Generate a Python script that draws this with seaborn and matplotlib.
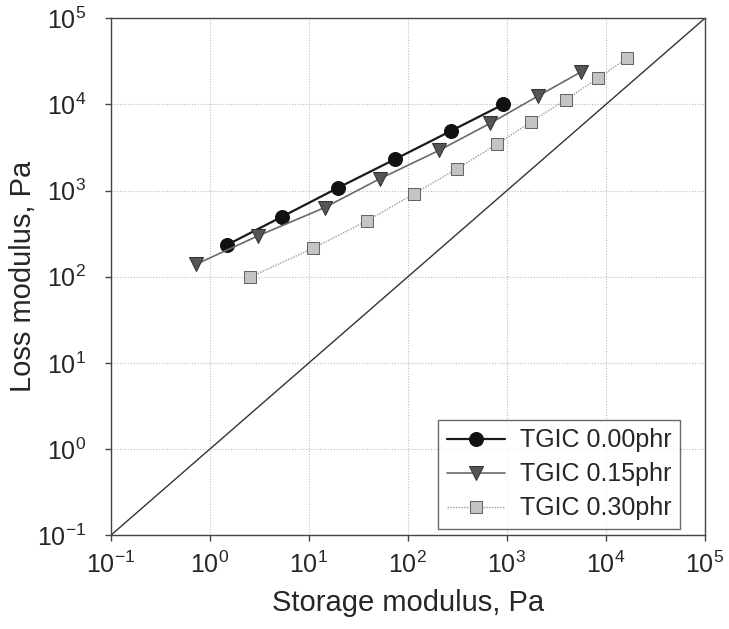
import numpy as np
import pandas as pd
import seaborn as sns
import matplotlib
matplotlib.use("Agg")
import matplotlib.pyplot as plt
from matplotlib.ticker import LogLocator, NullLocator

# storage modulus G' (Pa) and loss modulus G'' (Pa)
g1_000 = [1.5, 5.4, 19.8, 74, 274, 918]
g2_000 = [235, 500, 1080, 2310, 4940, 10000]

g1_015 = [0.72, 3.04, 14.4, 52, 208, 673, 2060, 5660]
g2_015 = [139, 297, 634, 1370, 2940, 6010, 12500, 24000]

g1_030 = [2.55, 11.1, 39, 116, 317, 795, 1760, 3960, 8240, 16400]
g2_030 = [99, 215, 448, 922, 1800, 3460, 6290, 11400, 20000, 34300]

labels = ["TGIC 0.00phr", "TGIC 0.15phr", "TGIC 0.30phr"]
diag = [0.1, 1e5]

sns.set_style("white")
plt.rcParams["font.family"] = ["Liberation Sans", "DejaVu Sans"]
plt.rcParams["mathtext.default"] = "regular"
plt.rcParams["axes.unicode_minus"] = False

fig = plt.figure(figsize=(7.29, 6.29), dpi=100)
ax = fig.add_axes([0.152, 0.149, 0.815, 0.822])

df0 = pd.DataFrame({"x": g1_000, "y": g2_000})
df1 = pd.DataFrame({"x": g1_015, "y": g2_015})
df2 = pd.DataFrame({"x": g1_030, "y": g2_030})

sns.lineplot(data=df0, x="x", y="y", ax=ax, color="#1a1a1a", lw=1.6,
             marker="o", markersize=10, markerfacecolor="#111111",
             markeredgecolor="#111111", label=labels[0], sort=False)
sns.lineplot(data=df1, x="x", y="y", ax=ax, color="#6a6a6a", lw=1.2,
             marker="v", markersize=10, markerfacecolor="#555555",
             markeredgecolor="#333333", label=labels[1], sort=False)
sns.lineplot(data=df2, x="x", y="y", ax=ax, color="#9a9a9a", lw=1.0,
             linestyle=(0, (1, 1)), marker="s", markersize=9,
             markerfacecolor="#c4c4c4", markeredgecolor="#666666",
             label=labels[2], sort=False)
ax.plot(diag, diag, color="#333333", lw=1.0)

ax.set_xscale("log")
ax.set_yscale("log")
ax.set_xlim(0.1, 1e5)
ax.set_ylim(0.1, 1e5)
ax.xaxis.set_major_locator(LogLocator(base=10, numticks=10))
ax.yaxis.set_major_locator(LogLocator(base=10, numticks=10))
ax.xaxis.set_minor_locator(NullLocator())
ax.yaxis.set_minor_locator(NullLocator())

ax.grid(True, color="#bbbbbb", linestyle=(0, (1, 1.5)), lw=0.8)
for s in ax.spines.values():
    s.set_color("#444444")
    s.set_linewidth(1.0)
ax.tick_params(axis="both", which="major", direction="out", length=4,
               width=1, color="#444444", labelsize=18,
               bottom=True, left=True)
ax.tick_params(axis="y", pad=14)
ax.tick_params(axis="x", pad=8)

ax.set_xlabel("Storage modulus, Pa", fontsize=21, labelpad=8)
ax.set_ylabel("Loss modulus, Pa", fontsize=21, labelpad=0)

leg = ax.legend(loc="lower right", fontsize=18, frameon=True, fancybox=False,
                edgecolor="#444444", borderpad=0.35, handlelength=2.3,
                handletextpad=0.6, labelspacing=0.4, borderaxespad=0,
                bbox_to_anchor=(0.958, 0.012))
leg.get_frame().set_linewidth(1.0)

fig.savefig("out.png", dpi=100)
